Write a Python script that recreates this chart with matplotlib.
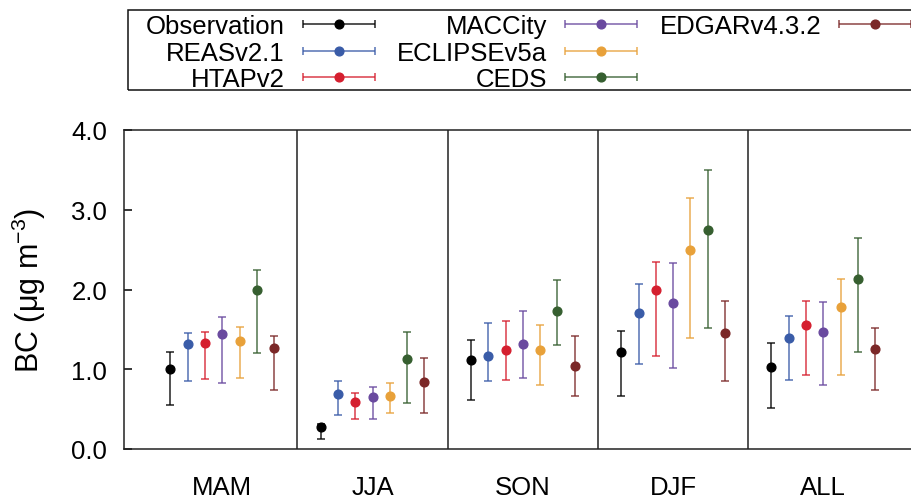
import matplotlib
matplotlib.use('Agg')
import matplotlib.pyplot as plt
from matplotlib.colors import to_rgba
from matplotlib.patches import Rectangle
from matplotlib.lines import Line2D
from matplotlib.container import ErrorbarContainer
from matplotlib.legend_handler import HandlerErrorbar
import numpy as np

plt.rcParams['font.family'] = ['Liberation Sans', 'DejaVu Sans']
plt.rcParams['mathtext.default'] = 'regular'

seasons = ['MAM', 'JJA', 'SON', 'DJF', 'ALL']
names = ['Observation', 'REASv2.1', 'HTAPv2', 'MACCity', 'ECLIPSEv5a', 'CEDS', 'EDGARv4.3.2']
colors = ['#000000', '#3a5ca8', '#d51f2f', '#6a4a9f', '#e8a13a', '#365f30', '#7b2828']

# mean, lower and upper end of the bar, per season
obs = [1.00, 0.27, 1.11, 1.22, 1.03]
obs_lo = [0.55, 0.12, 0.62, 0.66, 0.52]
obs_hi = [1.22, 0.31, 1.37, 1.48, 1.33]

reas = [1.32, 0.69, 1.16, 1.71, 1.39]
reas_lo = [0.85, 0.43, 0.85, 1.07, 0.86]
reas_hi = [1.45, 0.85, 1.58, 2.07, 1.67]

htap = [1.33, 0.59, 1.24, 2.00, 1.55]
htap_lo = [0.88, 0.37, 0.87, 1.17, 0.93]
htap_hi = [1.47, 0.70, 1.61, 2.35, 1.86]

macc = [1.44, 0.65, 1.32, 1.83, 1.47]
macc_lo = [0.83, 0.37, 0.89, 1.01, 0.80]
macc_hi = [1.66, 0.78, 1.73, 2.33, 1.84]

eclipse = [1.36, 0.67, 1.24, 2.50, 1.78]
eclipse_lo = [0.89, 0.45, 0.80, 1.39, 0.93]
eclipse_hi = [1.53, 0.83, 1.55, 3.15, 2.13]

ceds = [2.00, 1.13, 1.73, 2.74, 2.13]
ceds_lo = [1.21, 0.58, 1.30, 1.52, 1.22]
ceds_hi = [2.25, 1.47, 2.12, 3.50, 2.64]

edgar = [1.27, 0.84, 1.04, 1.46, 1.26]
edgar_lo = [0.74, 0.45, 0.67, 0.85, 0.74]
edgar_hi = [1.42, 1.14, 1.42, 1.86, 1.52]

means = [obs, reas, htap, macc, eclipse, ceds, edgar]
lows = [obs_lo, reas_lo, htap_lo, macc_lo, eclipse_lo, ceds_lo, edgar_lo]
highs = [obs_hi, reas_hi, htap_hi, macc_hi, eclipse_hi, ceds_hi, edgar_hi]

W, H = 911, 502
fig = plt.figure(figsize=(W / 100, H / 100), dpi=100)
ax = fig.add_axes([124 / W, 52 / H, 797 / W, 319 / H])

x = np.arange(1, len(seasons) + 1)
step = 0.115
handles = []
for i in range(len(names)):
    m = np.array(means[i])
    err = [m - np.array(lows[i]), np.array(highs[i]) - m]
    style = dict(fmt='o', color=colors[i], ecolor=to_rgba(colors[i], 0.8), ms=6.3,
                 elinewidth=1.2, capsize=3.2, capthick=1.2)
    ax.errorbar(x + (i - 3) * step, m, yerr=err, **style)
    # horizontal proxy for the legend (nan -> nothing drawn in the axes)
    handles.append(ax.errorbar([np.nan], [np.nan], xerr=[1.0], label=names[i], **style))

for s in x[:-1] + 0.5:
    ax.axvline(s, color='#222222', lw=1.1)

ax.set_xlim(0.346, 5.65)
ax.set_ylim(0, 4)
ax.set_yticks([0, 1, 2, 3, 4])
ax.set_yticklabels(['0.0', '1.0', '2.0', '3.0', '4.0'])
ax.set_xticks(x)
ax.set_xticklabels(seasons)
ax.tick_params(axis='y', direction='in', length=6, width=1.1, pad=12, labelsize=18.5)
ax.tick_params(axis='x', length=0, pad=19, labelsize=18.5)
for sp in ax.spines.values():
    sp.set_linewidth(1.1)
    sp.set_color('#222222')
ax.set_ylabel('BC (μg m$^{-3}$)', fontsize=22, labelpad=17)

# legend: 3 + 3 + 1 entries, padded with blanks
fig.patches.append(Rectangle((128 / W, 1 - 91 / H), 790 / W, 80 / H,
                             transform=fig.transFigure, fill=False,
                             edgecolor='#111111', lw=1.1))
blank = Line2D([], [], alpha=0)
leg_handles = handles + [blank, blank]
leg_labels = names + ['', '']
fig.legend(leg_handles, leg_labels, ncol=3, loc='upper left',
           bbox_to_anchor=(146 / W, 1 - 15 / H), frameon=False,
           markerfirst=False, fontsize=18.5, handlelength=2.9,
           handletextpad=0.65, columnspacing=0.82, labelspacing=0.1,
           borderpad=0, borderaxespad=0,
           handler_map={ErrorbarContainer: HandlerErrorbar(xerr_size=1.4, numpoints=1)})

fig.savefig('out.png', dpi=100)
